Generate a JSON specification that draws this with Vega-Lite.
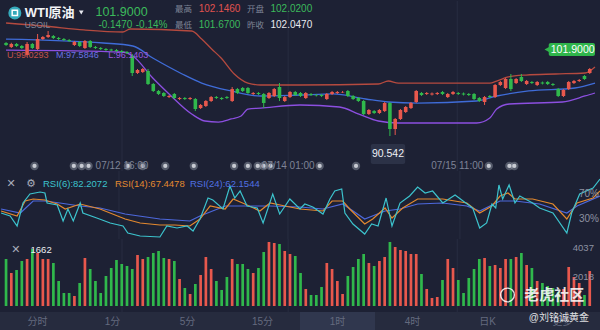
{
"$schema": "https://vega.github.io/schema/vega-lite/v6.json",
"background": "#1d2134",
"padding": 0,
"spacing": 0,
"bounds": "flush",
"resolve": {"scale": {"color": "independent"}},
"config": {"view": {"stroke": null}, "font": "Liberation Sans, Noto Sans CJK SC", "text": {"font": "Liberation Sans, Noto Sans CJK SC"}},
"datasets": {
"candles": [
{"i":0,"o":102.97,"c":102.70,"h":103.10,"l":102.57,"v":3271},
{"i":1,"o":102.43,"c":102.84,"h":103.00,"l":102.30,"v":2297},
{"i":2,"o":102.84,"c":102.57,"h":102.97,"l":102.43,"v":2506},
{"i":3,"o":102.57,"c":102.30,"h":102.70,"l":102.17,"v":3132},
{"i":4,"o":101.37,"c":102.84,"h":103.10,"l":101.10,"v":3271},
{"i":5,"o":102.84,"c":102.30,"h":102.97,"l":102.17,"v":3967},
{"i":6,"o":102.17,"c":103.50,"h":104.17,"l":102.03,"v":3689},
{"i":7,"o":103.50,"c":103.77,"h":103.90,"l":103.37,"v":3271},
{"i":8,"o":103.77,"c":104.04,"h":104.57,"l":103.64,"v":3271},
{"i":9,"o":103.90,"c":103.64,"h":104.04,"l":103.50,"v":2993},
{"i":10,"o":103.64,"c":103.50,"h":103.77,"l":103.37,"v":1740},
{"i":11,"o":103.50,"c":103.37,"h":103.64,"l":103.24,"v":905},
{"i":12,"o":103.37,"c":103.24,"h":103.50,"l":103.10,"v":905},
{"i":13,"o":102.70,"c":103.10,"h":103.24,"l":102.57,"v":696},
{"i":14,"o":103.10,"c":102.57,"h":103.24,"l":102.43,"v":1601},
{"i":15,"o":102.30,"c":103.24,"h":103.37,"l":102.17,"v":3341},
{"i":16,"o":103.24,"c":102.43,"h":103.37,"l":102.30,"v":2575},
{"i":17,"o":102.43,"c":102.30,"h":102.57,"l":102.17,"v":1740},
{"i":18,"o":102.30,"c":102.17,"h":102.43,"l":102.03,"v":905},
{"i":19,"o":102.17,"c":102.03,"h":102.30,"l":101.90,"v":2088},
{"i":20,"o":102.10,"c":101.97,"h":102.20,"l":101.85,"v":2645},
{"i":21,"o":102.03,"c":101.90,"h":102.17,"l":101.77,"v":3202},
{"i":22,"o":101.90,"c":101.77,"h":102.03,"l":101.63,"v":2923},
{"i":23,"o":101.77,"c":101.63,"h":101.90,"l":101.50,"v":2784},
{"i":24,"o":101.23,"c":98.96,"h":101.50,"l":98.56,"v":2575},
{"i":25,"o":98.96,"c":99.36,"h":99.50,"l":98.83,"v":3550},
{"i":26,"o":99.09,"c":99.50,"h":99.63,"l":98.96,"v":3271},
{"i":27,"o":99.23,"c":97.49,"h":99.50,"l":97.36,"v":3410},
{"i":28,"o":97.49,"c":96.56,"h":97.62,"l":96.42,"v":3689},
{"i":29,"o":96.56,"c":96.16,"h":96.69,"l":96.02,"v":3828},
{"i":30,"o":96.29,"c":95.89,"h":96.42,"l":95.75,"v":3341},
{"i":31,"o":95.75,"c":95.89,"h":96.02,"l":95.62,"v":3271},
{"i":32,"o":96.16,"c":95.62,"h":96.29,"l":95.49,"v":3132},
{"i":33,"o":95.49,"c":95.62,"h":95.75,"l":95.35,"v":1879},
{"i":34,"o":95.62,"c":95.49,"h":95.75,"l":95.35,"v":1253},
{"i":35,"o":95.49,"c":95.62,"h":95.75,"l":95.35,"v":835},
{"i":36,"o":95.49,"c":94.15,"h":95.62,"l":93.88,"v":1531},
{"i":37,"o":94.28,"c":94.69,"h":94.82,"l":94.15,"v":2158},
{"i":38,"o":94.55,"c":95.22,"h":95.35,"l":94.42,"v":3410},
{"i":39,"o":95.22,"c":95.75,"h":95.89,"l":95.09,"v":2575},
{"i":40,"o":95.75,"c":95.62,"h":95.89,"l":95.49,"v":1740},
{"i":41,"o":95.62,"c":95.49,"h":95.75,"l":95.35,"v":1114},
{"i":42,"o":95.75,"c":95.62,"h":95.89,"l":95.49,"v":2018},
{"i":43,"o":95.22,"c":96.82,"h":97.09,"l":95.09,"v":3271},
{"i":44,"o":96.82,"c":96.29,"h":96.96,"l":96.16,"v":2923},
{"i":45,"o":96.96,"c":96.56,"h":97.09,"l":96.42,"v":2923},
{"i":46,"o":96.96,"c":96.29,"h":97.09,"l":96.16,"v":2575},
{"i":47,"o":96.16,"c":96.29,"h":96.42,"l":96.02,"v":2297},
{"i":48,"o":96.29,"c":96.16,"h":96.42,"l":96.02,"v":2645},
{"i":49,"o":96.16,"c":94.95,"h":96.29,"l":94.28,"v":3758},
{"i":50,"o":95.62,"c":96.29,"h":96.42,"l":95.49,"v":4454},
{"i":51,"o":95.89,"c":96.82,"h":96.96,"l":95.75,"v":4385},
{"i":52,"o":97.09,"c":95.62,"h":97.62,"l":95.22,"v":4315},
{"i":53,"o":95.22,"c":95.75,"h":95.89,"l":95.09,"v":3828},
{"i":54,"o":95.75,"c":96.42,"h":96.56,"l":95.62,"v":3619},
{"i":55,"o":96.42,"c":96.02,"h":96.56,"l":95.89,"v":3480},
{"i":56,"o":96.29,"c":95.89,"h":96.42,"l":95.75,"v":2297},
{"i":57,"o":95.62,"c":96.29,"h":96.42,"l":95.49,"v":1183},
{"i":58,"o":96.16,"c":96.02,"h":96.29,"l":95.89,"v":766},
{"i":59,"o":96.02,"c":95.96,"h":96.16,"l":95.82,"v":766},
{"i":60,"o":96.02,"c":95.89,"h":96.16,"l":95.75,"v":1322},
{"i":61,"o":95.49,"c":96.16,"h":96.29,"l":95.35,"v":2993},
{"i":62,"o":96.16,"c":96.42,"h":96.56,"l":96.02,"v":2575},
{"i":63,"o":96.29,"c":96.42,"h":96.56,"l":96.16,"v":1740},
{"i":64,"o":96.36,"c":96.42,"h":96.56,"l":96.29,"v":835},
{"i":65,"o":96.56,"c":95.89,"h":96.69,"l":95.75,"v":2088},
{"i":66,"o":95.89,"c":95.49,"h":96.02,"l":95.35,"v":2714},
{"i":67,"o":95.62,"c":95.22,"h":95.75,"l":95.09,"v":3271},
{"i":68,"o":95.22,"c":93.48,"h":95.35,"l":93.35,"v":3619},
{"i":69,"o":93.48,"c":94.02,"h":94.15,"l":93.35,"v":2993},
{"i":70,"o":93.88,"c":93.62,"h":94.02,"l":93.48,"v":2784},
{"i":71,"o":93.62,"c":94.02,"h":94.15,"l":93.48,"v":3132},
{"i":72,"o":93.88,"c":94.95,"h":95.09,"l":93.75,"v":3410},
{"i":73,"o":94.95,"c":91.48,"h":95.09,"l":90.54,"v":4454},
{"i":74,"o":91.48,"c":92.82,"h":92.95,"l":90.68,"v":4106},
{"i":75,"o":92.82,"c":94.02,"h":94.15,"l":92.68,"v":3898},
{"i":76,"o":93.75,"c":94.42,"h":94.55,"l":93.62,"v":3828},
{"i":77,"o":94.28,"c":94.95,"h":95.09,"l":94.15,"v":3619},
{"i":78,"o":95.09,"c":96.56,"h":96.69,"l":94.95,"v":3619},
{"i":79,"o":96.29,"c":96.02,"h":96.42,"l":95.89,"v":2227},
{"i":80,"o":96.16,"c":96.29,"h":96.42,"l":96.02,"v":1183},
{"i":81,"o":96.09,"c":96.22,"h":96.36,"l":95.96,"v":557},
{"i":82,"o":96.16,"c":96.29,"h":96.42,"l":96.02,"v":626},
{"i":83,"o":96.42,"c":96.16,"h":96.56,"l":96.02,"v":1810},
{"i":84,"o":95.75,"c":96.16,"h":96.29,"l":95.62,"v":3271},
{"i":85,"o":96.16,"c":96.42,"h":96.56,"l":96.02,"v":2645},
{"i":86,"o":96.29,"c":96.16,"h":96.42,"l":96.02,"v":1810},
{"i":87,"o":96.22,"c":96.09,"h":96.36,"l":95.96,"v":905},
{"i":88,"o":96.16,"c":96.02,"h":96.29,"l":95.89,"v":1949},
{"i":89,"o":96.16,"c":95.49,"h":96.29,"l":95.35,"v":2575},
{"i":90,"o":95.62,"c":95.22,"h":95.75,"l":95.09,"v":3271},
{"i":91,"o":95.09,"c":95.75,"h":95.89,"l":94.69,"v":3341},
{"i":92,"o":95.89,"c":95.75,"h":96.02,"l":95.62,"v":2784},
{"i":93,"o":95.75,"c":97.36,"h":97.49,"l":95.62,"v":2854},
{"i":94,"o":97.36,"c":97.76,"h":97.89,"l":97.22,"v":2645},
{"i":95,"o":96.96,"c":98.16,"h":98.29,"l":96.82,"v":3271},
{"i":96,"o":98.16,"c":96.82,"h":98.83,"l":96.56,"v":3271},
{"i":97,"o":97.62,"c":98.16,"h":98.29,"l":97.49,"v":3410},
{"i":98,"o":98.43,"c":97.89,"h":98.83,"l":97.76,"v":3689},
{"i":99,"o":97.49,"c":97.89,"h":98.03,"l":97.36,"v":2854},
{"i":100,"o":97.76,"c":97.62,"h":97.89,"l":97.49,"v":2645},
{"i":101,"o":97.36,"c":97.76,"h":97.89,"l":97.22,"v":1740},
{"i":102,"o":97.69,"c":97.56,"h":97.82,"l":97.43,"v":1601},
{"i":103,"o":97.76,"c":97.49,"h":97.89,"l":97.36,"v":1392},
{"i":104,"o":97.49,"c":97.36,"h":97.62,"l":97.22,"v":1253},
{"i":105,"o":96.82,"c":95.89,"h":96.96,"l":95.75,"v":974},
{"i":106,"o":95.89,"c":96.69,"h":96.82,"l":95.75,"v":1183},
{"i":107,"o":96.82,"c":97.76,"h":97.89,"l":96.69,"v":2714},
{"i":108,"o":97.62,"c":97.89,"h":98.03,"l":97.49,"v":2018},
{"i":109,"o":97.89,"c":98.03,"h":98.16,"l":97.76,"v":1601},
{"i":110,"o":98.56,"c":98.16,"h":98.69,"l":98.03,"v":766},
{"i":111,"o":98.96,"c":99.50,"h":99.63,"l":98.83,"v":2436}
],
"bands": [
{"b":"U","i":0,"p":105.64},{"b":"U","i":7.3,"p":105.24},{"b":"U","i":14.8,"p":104.71},{"b":"U","i":22.2,"p":104.44},{"b":"U","i":23.6,"p":104.84},{"b":"U","i":35.3,"p":104.57},{"b":"U","i":37.2,"p":103.5},{"b":"U","i":39.1,"p":102.17},{"b":"U","i":40.9,"p":100.96},{"b":"U","i":43.4,"p":98.83},{"b":"U","i":46.0,"p":97.62},{"b":"U","i":48.4,"p":97.36},{"b":"U","i":55.9,"p":97.36},{"b":"U","i":70.8,"p":97.49},{"b":"U","i":72.7,"p":97.89},{"b":"U","i":74.6,"p":97.62},{"b":"U","i":92.0,"p":97.62},{"b":"U","i":93.3,"p":97.89},{"b":"U","i":95.5,"p":98.43},{"b":"U","i":98.9,"p":98.69},{"b":"U","i":104.5,"p":98.83},{"b":"U","i":110.1,"p":98.96},{"b":"U","i":112,"p":99.76},
{"b":"M","i":0,"p":103.5},{"b":"M","i":18.5,"p":102.97},{"b":"M","i":24.1,"p":102.57},{"b":"M","i":27.9,"p":100.96},{"b":"M","i":33.5,"p":98.83},{"b":"M","i":37.2,"p":97.62},{"b":"M","i":42.8,"p":96.56},{"b":"M","i":48.4,"p":95.89},{"b":"M","i":55.9,"p":96.02},{"b":"M","i":62.1,"p":96.16},{"b":"M","i":68.4,"p":95.49},{"b":"M","i":72.7,"p":95.09},{"b":"M","i":78.3,"p":94.95},{"b":"M","i":89.5,"p":95.22},{"b":"M","i":93.3,"p":95.89},{"b":"M","i":99.4,"p":96.56},{"b":"M","i":108.2,"p":96.96},{"b":"M","i":112,"p":97.62},
{"b":"L","i":0,"p":102.03},{"b":"L","i":22.2,"p":101.77},{"b":"L","i":24.1,"p":101.23},{"b":"L","i":27.9,"p":98.29},{"b":"L","i":31.0,"p":96.16},{"b":"L","i":35.3,"p":93.48},{"b":"L","i":37.8,"p":92.55},{"b":"L","i":40.4,"p":92.41},{"b":"L","i":42.8,"p":92.82},{"b":"L","i":44.7,"p":93.22},{"b":"L","i":46.0,"p":94.15},{"b":"L","i":48.4,"p":94.28},{"b":"L","i":55.9,"p":94.69},{"b":"L","i":63.4,"p":94.42},{"b":"L","i":67.1,"p":93.48},{"b":"L","i":70.8,"p":92.55},{"b":"L","i":74.6,"p":92.28},{"b":"L","i":89.5,"p":92.28},{"b":"L","i":92.0,"p":92.95},{"b":"L","i":93.3,"p":94.15},{"b":"L","i":95.7,"p":94.82},{"b":"L","i":105.8,"p":95.09},{"b":"L","i":110.1,"p":95.89},{"b":"L","i":112,"p":96.29}
],
"rsi": [
{"s":"24","i":0,"r":46},{"s":"24","i":3.6,"r":39.6},{"s":"24","i":6.0,"r":58.8},{"s":"24","i":8.2,"r":58.8},{"s":"24","i":11.0,"r":55.6},{"s":"24","i":14.8,"r":50.8},{"s":"24","i":18.5,"r":47.6},{"s":"24","i":23.2,"r":38},{"s":"24","i":29.7,"r":30},{"s":"24","i":35.3,"r":26.8},{"s":"24","i":37.2,"r":34.8},{"s":"24","i":41.9,"r":50.8},{"s":"24","i":45.6,"r":50.8},{"s":"24","i":50.3,"r":50.8},{"s":"24","i":55.9,"r":49.2},{"s":"24","i":60.2,"r":46},{"s":"24","i":63.9,"r":54},{"s":"24","i":68.0,"r":30},{"s":"24","i":71.8,"r":42.8},{"s":"24","i":74.6,"r":46},{"s":"24","i":77.9,"r":54},{"s":"24","i":82.6,"r":55.6},{"s":"24","i":87.1,"r":50.8},{"s":"24","i":89.5,"r":42.8},{"s":"24","i":93.3,"r":58.8},{"s":"24","i":96.1,"r":58.8},{"s":"24","i":100.7,"r":54},{"s":"24","i":105.8,"r":39.6},{"s":"24","i":107.7,"r":50.8},{"s":"24","i":112,"r":66.8},
{"s":"14","i":0,"r":42.8},{"s":"14","i":3.0,"r":34.8},{"s":"14","i":4.5,"r":58.8},{"s":"14","i":6.0,"r":62},{"s":"14","i":8.2,"r":60.4},{"s":"14","i":10.5,"r":54},{"s":"14","i":12.0,"r":46},{"s":"14","i":14.8,"r":54},{"s":"14","i":18.5,"r":46},{"s":"14","i":23.2,"r":30},{"s":"14","i":26.0,"r":23.6},{"s":"14","i":29.7,"r":20.4},{"s":"14","i":32.5,"r":20.4},{"s":"14","i":35.3,"r":18.8},{"s":"14","i":37.2,"r":30},{"s":"14","i":39.1,"r":50.8},{"s":"14","i":41.9,"r":46},{"s":"14","i":43.4,"r":62},{"s":"14","i":45.6,"r":54},{"s":"14","i":48.4,"r":42.8},{"s":"14","i":50.3,"r":55.6},{"s":"14","i":53.1,"r":50.8},{"s":"14","i":55.9,"r":46},{"s":"14","i":60.2,"r":42.8},{"s":"14","i":61.9,"r":58.8},{"s":"14","i":63.9,"r":58.8},{"s":"14","i":65.2,"r":46},{"s":"14","i":68.0,"r":22},{"s":"14","i":69.5,"r":30},{"s":"14","i":71.8,"r":47.6},{"s":"14","i":73.1,"r":31.6},{"s":"14","i":75.1,"r":47.6},{"s":"14","i":77.9,"r":62},{"s":"14","i":82.6,"r":62},{"s":"14","i":87.1,"r":55.6},{"s":"14","i":89.5,"r":39.6},{"s":"14","i":91.8,"r":50.8},{"s":"14","i":93.3,"r":66.8},{"s":"14","i":94.8,"r":71.6},{"s":"14","i":96.1,"r":62},{"s":"14","i":99.4,"r":62},{"s":"14","i":103.2,"r":54},{"s":"14","i":105.8,"r":30},{"s":"14","i":107.7,"r":55.6},{"s":"14","i":110.7,"r":63.6},{"s":"14","i":112,"r":74.8},
{"s":"6","i":0,"r":39.6},{"s":"6","i":1.7,"r":34.8},{"s":"6","i":3.0,"r":18.8},{"s":"6","i":4.1,"r":55.6},{"s":"6","i":5.4,"r":70},{"s":"6","i":7.3,"r":73.2},{"s":"6","i":8.2,"r":71.6},{"s":"6","i":8.6,"r":55.6},{"s":"6","i":10.5,"r":52.4},{"s":"6","i":11.6,"r":26.8},{"s":"6","i":12.5,"r":46},{"s":"6","i":13.5,"r":26.8},{"s":"6","i":14.8,"r":55.6},{"s":"6","i":15.3,"r":39.6},{"s":"6","i":17.9,"r":31.6},{"s":"6","i":20.4,"r":23.6},{"s":"6","i":22.8,"r":18.8},{"s":"6","i":23.7,"r":7.6},{"s":"6","i":26.0,"r":2.8},{"s":"6","i":29.7,"r":1.2},{"s":"6","i":31.0,"r":18.8},{"s":"6","i":32.9,"r":15.6},{"s":"6","i":34.8,"r":18.8},{"s":"6","i":35.9,"r":10.8},{"s":"6","i":37.2,"r":30},{"s":"6","i":38.7,"r":63.6},{"s":"6","i":39.6,"r":60.4},{"s":"6","i":41.5,"r":46},{"s":"6","i":42.8,"r":82.8},{"s":"6","i":43.7,"r":63.6},{"s":"6","i":44.7,"r":74.8},{"s":"6","i":46.0,"r":50.8},{"s":"6","i":47.9,"r":47.6},{"s":"6","i":49.0,"r":23.6},{"s":"6","i":50.8,"r":70},{"s":"6","i":52.1,"r":38},{"s":"6","i":54.0,"r":62},{"s":"6","i":55.9,"r":46},{"s":"6","i":56.8,"r":54},{"s":"6","i":58.3,"r":49.2},{"s":"6","i":60.2,"r":38},{"s":"6","i":61.5,"r":62},{"s":"6","i":62.4,"r":74.8},{"s":"6","i":63.7,"r":78},{"s":"6","i":64.3,"r":39.6},{"s":"6","i":65.8,"r":22},{"s":"6","i":68.0,"r":6},{"s":"6","i":69.3,"r":22},{"s":"6","i":70.5,"r":18.8},{"s":"6","i":72.0,"r":63.6},{"s":"6","i":73.1,"r":18.8},{"s":"6","i":74.6,"r":55.6},{"s":"6","i":76.4,"r":66.8},{"s":"6","i":77.9,"r":81.2},{"s":"6","i":79.3,"r":71.6},{"s":"6","i":80.7,"r":74.8},{"s":"6","i":82.6,"r":55.6},{"s":"6","i":84.9,"r":68.4},{"s":"6","i":86.4,"r":58.8},{"s":"6","i":88.2,"r":47.6},{"s":"6","i":89.5,"r":15.6},{"s":"6","i":90.8,"r":23.6},{"s":"6","i":91.8,"r":54},{"s":"6","i":92.5,"r":47.6},{"s":"6","i":93.1,"r":84.4},{"s":"6","i":93.8,"r":62},{"s":"6","i":95.0,"r":84.4},{"s":"6","i":96.1,"r":55.6},{"s":"6","i":97.0,"r":66.8},{"s":"6","i":99.4,"r":55.6},{"s":"6","i":100.7,"r":47.6},{"s":"6","i":103.2,"r":39.6},{"s":"6","i":105.8,"r":7.6},{"s":"6","i":106.7,"r":39.6},{"s":"6","i":108.2,"r":70},{"s":"6","i":110.7,"r":79.6},{"s":"6","i":112,"r":94}
],
"grid": [{"i":22.05},{"i":53.65},{"i":85.81}]
},
"vconcat": [
{
"width": 600, "height": 170,
"layer": [
{"data": {"name": "grid"}, "mark": {"type": "rule", "color": "#282d40", "strokeWidth": 1},
 "encoding": {"x": {"field": "i", "type": "quantitative", "scale": {"domain": [-0.2, 112], "nice": false, "zero": false}, "axis": null}}},
{"mark": {"type": "rule", "color": "#454b60", "strokeWidth": 1},
 "encoding": {"y": {"datum": 101.83, "type": "quantitative", "scale": {"domain": [85.87, 108.58], "nice": false, "zero": false}, "axis": null}}},
{"data": {"name": "bands"}, "mark": {"type": "line", "strokeWidth": 1.3, "interpolate": "monotone", "clip": true},
 "encoding": {
  "x": {"field": "i", "type": "quantitative", "scale": {"domain": [-0.2, 112], "nice": false, "zero": false}, "axis": null},
  "y": {"field": "p", "type": "quantitative", "scale": {"domain": [85.87, 108.58], "nice": false, "zero": false}, "axis": null},
  "color": {"field": "b", "type": "nominal", "scale": {"domain": ["U", "M", "L"], "range": ["#b54a3f", "#3f6cd8", "#8c4fe0"]}, "legend": null}}},
{"data": {"name": "candles"}, "mark": {"type": "rule", "strokeWidth": 1, "clip": true},
 "encoding": {
  "x": {"field": "i", "type": "quantitative", "scale": {"domain": [-0.2, 112], "nice": false, "zero": false}, "axis": null},
  "y": {"field": "l", "type": "quantitative", "scale": {"domain": [85.87, 108.58], "nice": false, "zero": false}, "axis": null},
  "y2": {"field": "h"},
  "color": {"condition": {"test": "datum.c > datum.o", "value": "#e8584d"}, "value": "#30b84c"}}},
{"data": {"name": "candles"}, "mark": {"type": "bar", "width": 3.6, "clip": true},
 "encoding": {
  "x": {"field": "i", "type": "quantitative", "scale": {"domain": [-0.2, 112], "nice": false, "zero": false}, "axis": null},
  "y": {"field": "o", "type": "quantitative", "scale": {"domain": [85.87, 108.58], "nice": false, "zero": false}, "axis": null},
  "y2": {"field": "c"},
  "color": {"condition": {"test": "datum.c > datum.o", "value": "#e8584d"}, "value": "#30b84c"}}},
{"data": {"values": [{"i": 5.41}, {"i": 12.89}, {"i": 14.38}, {"i": 15.69}, {"i": 23.17}, {"i": 25.98}, {"i": 30.28}, {"i": 35.7}, {"i": 43.37}, {"i": 45.99}, {"i": 47.86}, {"i": 48.98}, {"i": 50.29}, {"i": 59.64}, {"i": 66.55}, {"i": 91.8}, {"i": 95.72}, {"i": 96.66}]},
 "mark": {"type": "point", "filled": true, "size": 70, "color": "#9aa0ae", "opacity": 0.45},
 "encoding": {
  "x": {"field": "i", "type": "quantitative", "scale": {"domain": [-0.2, 112], "nice": false, "zero": false}, "axis": null},
  "y": {"datum": 86.54, "type": "quantitative", "scale": {"domain": [85.87, 108.58], "nice": false, "zero": false}, "axis": null}}},
{"data": {"values": [{"i": 5.41}, {"i": 12.89}, {"i": 14.38}, {"i": 15.69}, {"i": 23.17}, {"i": 25.98}, {"i": 30.28}, {"i": 35.7}, {"i": 43.37}, {"i": 45.99}, {"i": 47.86}, {"i": 48.98}, {"i": 50.29}, {"i": 59.64}, {"i": 66.55}, {"i": 91.8}, {"i": 95.72}, {"i": 96.66}]},
 "mark": {"type": "point", "filled": true, "size": 18, "color": "#e4e6ec", "opacity": 0.8},
 "encoding": {
  "x": {"field": "i", "type": "quantitative", "scale": {"domain": [-0.2, 112], "nice": false, "zero": false}, "axis": null},
  "y": {"datum": 86.54, "type": "quantitative", "scale": {"domain": [85.87, 108.58], "nice": false, "zero": false}, "axis": null}}},
{"data": {"values": [{"i": 22.05, "t": "07/12 16:00"}, {"i": 53.65, "t": "07/14 01:00"}, {"i": 85.81, "t": "07/15 11:00"}]},
 "mark": {"type": "text", "fontSize": 10, "color": "#7d8396", "align": "center", "baseline": "middle"},
 "encoding": {
  "x": {"field": "i", "type": "quantitative", "scale": {"domain": [-0.2, 112], "nice": false, "zero": false}, "axis": null},
  "y": {"datum": 86.54, "type": "quantitative", "scale": {"domain": [85.87, 108.58], "nice": false, "zero": false}, "axis": null},
  "text": {"field": "t"}}},
{"data": {"values": [{"i": 69.36, "i2": 75.9, "p": 89.48, "p2": 86.8}]},
 "mark": {"type": "rect", "color": "#2c3247", "cornerRadius": 2},
 "encoding": {
  "x": {"field": "i", "type": "quantitative", "scale": {"domain": [-0.2, 112], "nice": false, "zero": false}, "axis": null},
  "x2": {"field": "i2"},
  "y": {"field": "p", "type": "quantitative", "scale": {"domain": [85.87, 108.58], "nice": false, "zero": false}, "axis": null},
  "y2": {"field": "p2"}}},
{"data": {"values": [{"i": 72.63, "p": 88.14, "t": "90.542"}]},
 "mark": {"type": "text", "fontSize": 10.5, "color": "#eef0f4", "align": "center", "baseline": "middle"},
 "encoding": {
  "x": {"field": "i", "type": "quantitative", "scale": {"domain": [-0.2, 112], "nice": false, "zero": false}, "axis": null},
  "y": {"field": "p", "type": "quantitative", "scale": {"domain": [85.87, 108.58], "nice": false, "zero": false}, "axis": null},
  "text": {"field": "t"}}},
{"data": {"values": [{"i": 103.2, "i2": 112, "p": 102.97, "p2": 101.23}]},
 "mark": {"type": "rect", "color": "#2fb54b", "cornerRadius": 2},
 "encoding": {
  "x": {"field": "i", "type": "quantitative", "scale": {"domain": [-0.2, 112], "nice": false, "zero": false}, "axis": null},
  "x2": {"field": "i2"},
  "y": {"field": "p", "type": "quantitative", "scale": {"domain": [85.87, 108.58], "nice": false, "zero": false}, "axis": null},
  "y2": {"field": "p2"}}},
{"data": {"values": [{"i": 102.95, "p": 102.1}]},
 "mark": {"type": "point", "shape": "triangle-left", "filled": true, "size": 45, "color": "#2fb54b", "opacity": 1},
 "encoding": {
  "x": {"field": "i", "type": "quantitative", "scale": {"domain": [-0.2, 112], "nice": false, "zero": false}, "axis": null},
  "y": {"field": "p", "type": "quantitative", "scale": {"domain": [85.87, 108.58], "nice": false, "zero": false}, "axis": null}}},
{"data": {"values": [{"i": 107.75, "p": 102.1, "t": "101.9000"}]},
 "mark": {"type": "text", "fontSize": 10.5, "color": "#ffffff", "align": "center", "baseline": "middle"},
 "encoding": {
  "x": {"field": "i", "type": "quantitative", "scale": {"domain": [-0.2, 112], "nice": false, "zero": false}, "axis": null},
  "y": {"field": "p", "type": "quantitative", "scale": {"domain": [85.87, 108.58], "nice": false, "zero": false}, "axis": null},
  "text": {"field": "t"}}},
{"data": {"values": [{"i": 0.17, "p": 101.37, "t": "U:99.0293"}]},
 "mark": {"type": "text", "fontSize": 9, "color": "#c4514a", "align": "left", "baseline": "middle"},
 "encoding": {
  "x": {"field": "i", "type": "quantitative", "scale": {"domain": [-0.2, 112], "nice": false, "zero": false}, "axis": null},
  "y": {"field": "p", "type": "quantitative", "scale": {"domain": [85.87, 108.58], "nice": false, "zero": false}, "axis": null},
  "text": {"field": "t"}}},
{"data": {"values": [{"i": 9.52, "p": 101.37, "t": "M:97.5846"}]},
 "mark": {"type": "text", "fontSize": 9, "color": "#6a72e4", "align": "left", "baseline": "middle"},
 "encoding": {
  "x": {"field": "i", "type": "quantitative", "scale": {"domain": [-0.2, 112], "nice": false, "zero": false}, "axis": null},
  "y": {"field": "p", "type": "quantitative", "scale": {"domain": [85.87, 108.58], "nice": false, "zero": false}, "axis": null},
  "text": {"field": "t"}}},
{"data": {"values": [{"i": 19.43, "p": 101.37, "t": "L:96.1403"}]},
 "mark": {"type": "text", "fontSize": 9, "color": "#9b5ae2", "align": "left", "baseline": "middle"},
 "encoding": {
  "x": {"field": "i", "type": "quantitative", "scale": {"domain": [-0.2, 112], "nice": false, "zero": false}, "axis": null},
  "y": {"field": "p", "type": "quantitative", "scale": {"domain": [85.87, 108.58], "nice": false, "zero": false}, "axis": null},
  "text": {"field": "t"}}},
{"data": {"values": [{"i": 1.67, "p": 106.98}]},
 "mark": {"type": "point", "filled": true, "size": 170, "color": "#35a9ba", "opacity": 1},
 "encoding": {
  "x": {"field": "i", "type": "quantitative", "scale": {"domain": [-0.2, 112], "nice": false, "zero": false}, "axis": null},
  "y": {"field": "p", "type": "quantitative", "scale": {"domain": [85.87, 108.58], "nice": false, "zero": false}, "axis": null}}},
{"data": {"values": [{"i": 1.67, "p": 106.98}]},
 "mark": {"type": "point", "shape": "square", "filled": false, "size": 28, "color": "#ffffff", "strokeWidth": 1.5, "opacity": 1},
 "encoding": {
  "x": {"field": "i", "type": "quantitative", "scale": {"domain": [-0.2, 112], "nice": false, "zero": false}, "axis": null},
  "y": {"field": "p", "type": "quantitative", "scale": {"domain": [85.87, 108.58], "nice": false, "zero": false}, "axis": null}}},
{"data": {"values": [{"i": 14.3, "p": 107.04}]},
 "mark": {"type": "point", "shape": "triangle-down", "filled": true, "size": 22, "color": "#e8eaf0", "opacity": 1},
 "encoding": {
  "x": {"field": "i", "type": "quantitative", "scale": {"domain": [-0.2, 112], "nice": false, "zero": false}, "axis": null},
  "y": {"field": "p", "type": "quantitative", "scale": {"domain": [85.87, 108.58], "nice": false, "zero": false}, "axis": null}}},
{"data": {"values": [{"i": 3.54, "p": 107.04, "t": "WTI原油"}]},
 "mark": {"type": "text", "fontSize": 13, "fontWeight": "bold", "color": "#f2f3f6", "align": "left", "baseline": "middle"},
 "encoding": {
  "x": {"field": "i", "type": "quantitative", "scale": {"domain": [-0.2, 112], "nice": false, "zero": false}, "axis": null},
  "y": {"field": "p", "type": "quantitative", "scale": {"domain": [85.87, 108.58], "nice": false, "zero": false}, "axis": null},
  "text": {"field": "t"}}},
{"data": {"values": [{"i": 17.0, "p": 107.11, "t": "101.9000"}]},
 "mark": {"type": "text", "fontSize": 12.5, "color": "#3cba5b", "align": "left", "baseline": "middle"},
 "encoding": {
  "x": {"field": "i", "type": "quantitative", "scale": {"domain": [-0.2, 112], "nice": false, "zero": false}, "axis": null},
  "y": {"field": "p", "type": "quantitative", "scale": {"domain": [85.87, 108.58], "nice": false, "zero": false}, "axis": null},
  "text": {"field": "t"}}},
{"data": {"values": [{"i": 3.54, "p": 105.44, "t": "USOIL"}, {"i": 32.15, "p": 107.51, "t": "最高"}, {"i": 45.8, "p": 107.51, "t": "开盘"}, {"i": 32.15, "p": 105.37, "t": "最低"}, {"i": 45.8, "p": 105.37, "t": "昨收"}]},
 "mark": {"type": "text", "fontSize": 8.5, "color": "#7f8597", "align": "left", "baseline": "middle"},
 "encoding": {
  "x": {"field": "i", "type": "quantitative", "scale": {"domain": [-0.2, 112], "nice": false, "zero": false}, "axis": null},
  "y": {"field": "p", "type": "quantitative", "scale": {"domain": [85.87, 108.58], "nice": false, "zero": false}, "axis": null},
  "text": {"field": "t"}}},
{"data": {"values": [{"i": 17.56, "p": 105.44, "t": "-0.1470"}, {"i": 24.67, "p": 105.44, "t": "-0.14%"}, {"i": 50.29, "p": 107.51, "t": "102.0200"}, {"i": 36.64, "p": 105.37, "t": "101.6700"}]},
 "mark": {"type": "text", "fontSize": 10, "color": "#3cba5b", "align": "left", "baseline": "middle"},
 "encoding": {
  "x": {"field": "i", "type": "quantitative", "scale": {"domain": [-0.2, 112], "nice": false, "zero": false}, "axis": null},
  "y": {"field": "p", "type": "quantitative", "scale": {"domain": [85.87, 108.58], "nice": false, "zero": false}, "axis": null},
  "text": {"field": "t"}}},
{"data": {"values": [{"i": 36.64, "p": 107.51, "t": "102.1460"}]},
 "mark": {"type": "text", "fontSize": 10, "color": "#e0524f", "align": "left", "baseline": "middle"},
 "encoding": {
  "x": {"field": "i", "type": "quantitative", "scale": {"domain": [-0.2, 112], "nice": false, "zero": false}, "axis": null},
  "y": {"field": "p", "type": "quantitative", "scale": {"domain": [85.87, 108.58], "nice": false, "zero": false}, "axis": null},
  "text": {"field": "t"}}},
{"data": {"values": [{"i": 50.29, "p": 105.37, "t": "102.0470"}]},
 "mark": {"type": "text", "fontSize": 10, "color": "#e8eaef", "align": "left", "baseline": "middle"},
 "encoding": {
  "x": {"field": "i", "type": "quantitative", "scale": {"domain": [-0.2, 112], "nice": false, "zero": false}, "axis": null},
  "y": {"field": "p", "type": "quantitative", "scale": {"domain": [85.87, 108.58], "nice": false, "zero": false}, "axis": null},
  "text": {"field": "t"}}}
]
},
{
"width": 600, "height": 68,
"layer": [
{"data": {"name": "grid"}, "mark": {"type": "rule", "color": "#282d40", "strokeWidth": 1},
 "encoding": {"x": {"field": "i", "type": "quantitative", "scale": {"domain": [-0.2, 112], "nice": false, "zero": false}, "axis": null}}},
{"mark": {"type": "rule", "color": "#8a3845", "strokeWidth": 1.2},
 "encoding": {"y": {"datum": 70, "type": "quantitative", "scale": {"domain": [-2, 106.8], "nice": false, "zero": false}, "axis": null}}},
{"mark": {"type": "rule", "color": "#3a7b4d", "strokeWidth": 1.2},
 "encoding": {"y": {"datum": 30, "type": "quantitative", "scale": {"domain": [-2, 106.8], "nice": false, "zero": false}, "axis": null}}},
{"data": {"name": "rsi"}, "mark": {"type": "line", "strokeWidth": 1.2, "clip": true},
 "encoding": {
  "x": {"field": "i", "type": "quantitative", "scale": {"domain": [-0.2, 112], "nice": false, "zero": false}, "axis": null},
  "y": {"field": "r", "type": "quantitative", "scale": {"domain": [-2, 106.8], "nice": false, "zero": false}, "axis": null},
  "color": {"field": "s", "type": "nominal", "scale": {"domain": ["24", "14", "6"], "range": ["#4d68dc", "#e3892f", "#3cc3cd"]}, "legend": null}}},
{"data": {"values": [{"i": 1.86, "r": 86, "t": "✕"}, {"i": 5.6, "r": 86, "t": "⚙"}]},
 "mark": {"type": "text", "fontSize": 11, "font": "DejaVu Sans", "color": "#a7acba", "align": "center", "baseline": "middle"},
 "encoding": {
  "x": {"field": "i", "type": "quantitative", "scale": {"domain": [-0.2, 112], "nice": false, "zero": false}, "axis": null},
  "y": {"field": "r", "type": "quantitative", "scale": {"domain": [-2, 106.8], "nice": false, "zero": false}, "axis": null},
  "text": {"field": "t"}}},
{"data": {"values": [{"i": 7.84, "r": 86, "t": "RSI(6):82.2072"}]},
 "mark": {"type": "text", "fontSize": 9.5, "color": "#3cc3cd", "align": "left", "baseline": "middle"},
 "encoding": {
  "x": {"field": "i", "type": "quantitative", "scale": {"domain": [-0.2, 112], "nice": false, "zero": false}, "axis": null},
  "y": {"field": "r", "type": "quantitative", "scale": {"domain": [-2, 106.8], "nice": false, "zero": false}, "axis": null},
  "text": {"field": "t"}}},
{"data": {"values": [{"i": 21.3, "r": 86, "t": "RSI(14):67.4478"}]},
 "mark": {"type": "text", "fontSize": 9.5, "color": "#e3892f", "align": "left", "baseline": "middle"},
 "encoding": {
  "x": {"field": "i", "type": "quantitative", "scale": {"domain": [-0.2, 112], "nice": false, "zero": false}, "axis": null},
  "y": {"field": "r", "type": "quantitative", "scale": {"domain": [-2, 106.8], "nice": false, "zero": false}, "axis": null},
  "text": {"field": "t"}}},
{"data": {"values": [{"i": 35.33, "r": 86, "t": "RSI(24):62.1544"}]},
 "mark": {"type": "text", "fontSize": 9.5, "color": "#5070e2", "align": "left", "baseline": "middle"},
 "encoding": {
  "x": {"field": "i", "type": "quantitative", "scale": {"domain": [-0.2, 112], "nice": false, "zero": false}, "axis": null},
  "y": {"field": "r", "type": "quantitative", "scale": {"domain": [-2, 106.8], "nice": false, "zero": false}, "axis": null},
  "text": {"field": "t"}}},
{"data": {"values": [{"r": 70, "t": "70%"}, {"r": 30, "t": "30%"}]},
 "mark": {"type": "text", "fontSize": 10, "color": "#8d92a2", "align": "right", "baseline": "middle"},
 "encoding": {
  "x": {"datum": 111.8, "type": "quantitative", "scale": {"domain": [-0.2, 112], "nice": false, "zero": false}, "axis": null},
  "y": {"field": "r", "type": "quantitative", "scale": {"domain": [-2, 106.8], "nice": false, "zero": false}, "axis": null},
  "text": {"field": "t"}}}
]
},
{
"width": 600, "height": 73,
"layer": [
{"data": {"name": "grid"}, "mark": {"type": "rule", "color": "#282d40", "strokeWidth": 1},
 "encoding": {"x": {"field": "i", "type": "quantitative", "scale": {"domain": [-0.2, 112], "nice": false, "zero": false}, "axis": null}}},
{"mark": {"type": "rule", "color": "#30364a", "strokeWidth": 1},
 "encoding": {"y": {"datum": 4640, "type": "quantitative", "scale": {"domain": [-418, 4663], "nice": false, "zero": false}, "axis": null}}},
{"data": {"name": "candles"}, "mark": {"type": "bar", "width": 2.7, "clip": true},
 "encoding": {
  "x": {"field": "i", "type": "quantitative", "scale": {"domain": [-0.2, 112], "nice": false, "zero": false}, "axis": null},
  "y": {"field": "v", "type": "quantitative", "scale": {"domain": [-418, 4663], "nice": false, "zero": false}, "axis": null},
  "y2": {"datum": 0},
  "color": {"condition": {"test": "datum.c > datum.o", "value": "#e8584d"}, "value": "#30b84c"}}},
{"data": {"values": [{"i": 1.86, "v": 3898, "t": "✕"}]},
 "mark": {"type": "text", "fontSize": 11, "font": "DejaVu Sans", "color": "#a7acba", "align": "center", "baseline": "middle"},
 "encoding": {
  "x": {"field": "i", "type": "quantitative", "scale": {"domain": [-0.2, 112], "nice": false, "zero": false}, "axis": null},
  "y": {"field": "v", "type": "quantitative", "scale": {"domain": [-418, 4663], "nice": false, "zero": false}, "axis": null},
  "text": {"field": "t"}}},
{"data": {"values": [{"i": 4.66, "v": 3898, "t": "1662"}]},
 "mark": {"type": "text", "fontSize": 9.5, "color": "#eceef2", "align": "left", "baseline": "middle"},
 "encoding": {
  "x": {"field": "i", "type": "quantitative", "scale": {"domain": [-0.2, 112], "nice": false, "zero": false}, "axis": null},
  "y": {"field": "v", "type": "quantitative", "scale": {"domain": [-418, 4663], "nice": false, "zero": false}, "axis": null},
  "text": {"field": "t"}}},
{"data": {"values": [{"v": 4037, "t": "4037"}, {"v": 2018, "t": "2018"}]},
 "mark": {"type": "text", "fontSize": 9.5, "color": "#8d92a2", "align": "right", "baseline": "middle"},
 "encoding": {
  "x": {"datum": 111.8, "type": "quantitative", "scale": {"domain": [-0.2, 112], "nice": false, "zero": false}, "axis": null},
  "y": {"field": "v", "type": "quantitative", "scale": {"domain": [-418, 4663], "nice": false, "zero": false}, "axis": null},
  "text": {"field": "t"}}},
{"data": {"values": [{"i": 95.35, "v": 766}]},
 "mark": {"type": "point", "filled": false, "size": 190, "color": "#ffffff", "strokeWidth": 1.4, "opacity": 0.85},
 "encoding": {
  "x": {"field": "i", "type": "quantitative", "scale": {"domain": [-0.2, 112], "nice": false, "zero": false}, "axis": null},
  "y": {"field": "v", "type": "quantitative", "scale": {"domain": [-418, 4663], "nice": false, "zero": false}, "axis": null}}},
{"data": {"values": [{"i": 98.53, "v": 766, "t": "老虎社区"}]},
 "mark": {"type": "text", "fontSize": 15, "fontWeight": "bold", "color": "#ffffff", "opacity": 0.85, "align": "left", "baseline": "middle"},
 "encoding": {
  "x": {"field": "i", "type": "quantitative", "scale": {"domain": [-0.2, 112], "nice": false, "zero": false}, "axis": null},
  "y": {"field": "v", "type": "quantitative", "scale": {"domain": [-418, 4663], "nice": false, "zero": false}, "axis": null},
  "text": {"field": "t"}}}
]
},
{
"width": 600, "height": 19,
"view": {"fill": "#262b3e"},
"layer": [
{"data": {"values": [{"k": 4, "k2": 5}]},
 "mark": {"type": "rect", "color": "#30374e"},
 "encoding": {
  "x": {"field": "k", "type": "quantitative", "scale": {"domain": [0, 8], "nice": false, "zero": false}, "axis": null},
  "x2": {"field": "k2"}}},
{"data": {"values": [{"k": 0.5, "t": "分时"}, {"k": 1.5, "t": "1分"}, {"k": 2.5, "t": "5分"}, {"k": 3.5, "t": "15分"}, {"k": 4.5, "t": "1时"}, {"k": 5.5, "t": "4时"}, {"k": 6.5, "t": "日K"}, {"k": 7.5, "t": "更多"}]},
 "mark": {"type": "text", "fontSize": 10, "color": "#646a7e", "align": "center", "baseline": "middle"},
 "encoding": {
  "x": {"field": "k", "type": "quantitative", "scale": {"domain": [0, 8], "nice": false, "zero": false}, "axis": null},
  "text": {"field": "t"}}},
{"data": {"values": [{"k": 7.05, "t": "@刘铭诚黄金"}]},
 "mark": {"type": "text", "fontSize": 10, "color": "#ffffff", "opacity": 0.85, "align": "left", "baseline": "middle", "dy": -4},
 "encoding": {
  "x": {"field": "k", "type": "quantitative", "scale": {"domain": [0, 8], "nice": false, "zero": false}, "axis": null},
  "text": {"field": "t"}}}
]
}
]
}
